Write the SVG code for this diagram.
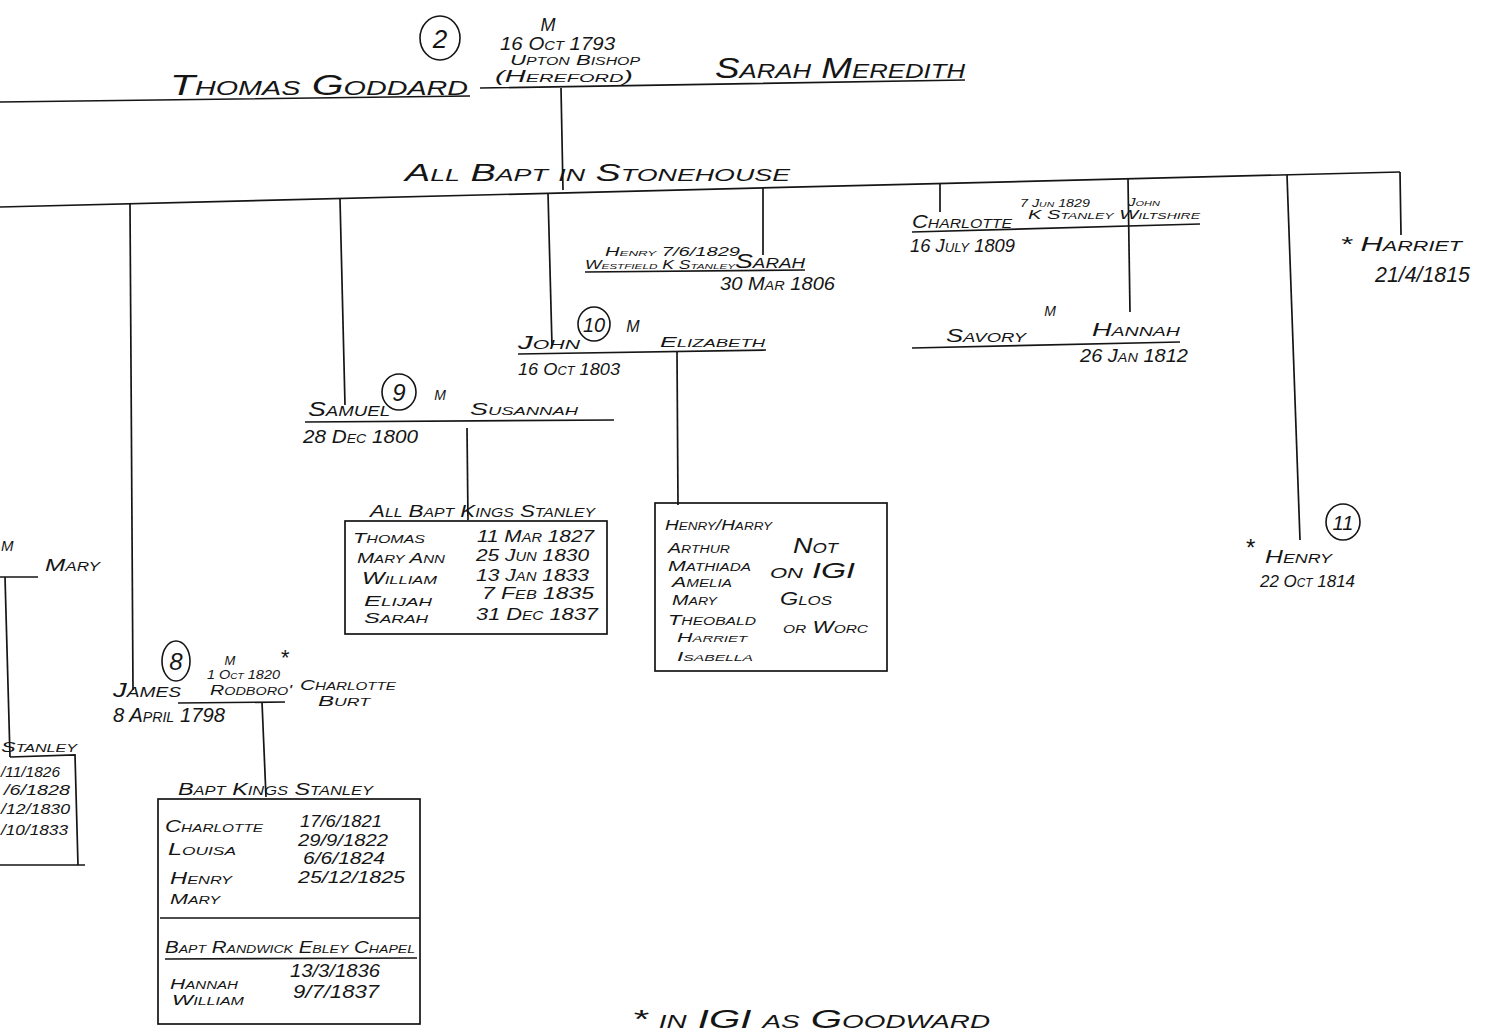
<svg xmlns="http://www.w3.org/2000/svg" width="1487" height="1034" viewBox="0 0 1487 1034">
<style>
text{font-family:"Liberation Sans",Arial,sans-serif;font-variant:small-caps;fill:#151515;font-style:italic}
.l{stroke:#151515;stroke-width:1.7;fill:none}
.c{stroke:#151515;stroke-width:1.6;fill:none}
.m{text-anchor:middle}
</style>
<rect width="1487" height="1034" fill="#fff"/>
<g id="connectors" class="l">
<path d="M0 102 L470 96 M480 88 L965 80"/>
<path d="M561 88 L563 190"/>
<path d="M0 207 L1400 172"/>
<path d="M130 204 L133 690"/>
<path d="M340 199 L345 405"/>
<path d="M548 193 L552 346"/>
<path d="M763 188 L763 255"/>
<path d="M940 183 L940 212"/>
<path d="M1128 179 L1130 312"/>
<path d="M1287 175 L1300 540"/>
<path d="M1400 172 L1401 235"/>
<path d="M677 352 L678 505"/>
<path d="M467 428 L468 520"/>
<path d="M262 702 L266 797"/>
<path d="M5 577 L10 757"/>
</g>
<g id="thomas-goddard"><text x="170" y="95" font-size="30" textLength="298" lengthAdjust="spacingAndGlyphs">Thomas Goddard</text></g>
<g id="sarah-meredith"><text x="715" y="78" font-size="30" textLength="250" lengthAdjust="spacingAndGlyphs">Sarah Meredith</text></g>
<g id="marriage-2">
<ellipse class="c" cx="440" cy="38" rx="20" ry="22"/>
<text class="m" x="440" y="48" font-size="26">2</text>
<text class="m" x="548" y="31" font-size="18">M</text>
<text x="500" y="50" font-size="18" textLength="115" lengthAdjust="spacingAndGlyphs">16 Oct 1793</text>
<text x="510" y="65" font-size="14" textLength="130" lengthAdjust="spacingAndGlyphs">Upton Bishop</text>
<text x="495" y="82" font-size="16" textLength="138" lengthAdjust="spacingAndGlyphs">(Hereford)</text>
</g>
<g id="bapt-note"><text x="405" y="181" font-size="24" textLength="385" lengthAdjust="spacingAndGlyphs">All Bapt in Stonehouse</text></g>
<g id="sarah">
<text x="605" y="256" font-size="12" textLength="135" lengthAdjust="spacingAndGlyphs">Henry 7/6/1829</text>
<text x="585" y="269" font-size="12" textLength="150" lengthAdjust="spacingAndGlyphs">Westfield K Stanley</text>
<text x="735" y="268" font-size="20" textLength="70" lengthAdjust="spacingAndGlyphs">Sarah</text>
<path class="l" d="M585 272 L805 270"/>
<text x="720" y="290" font-size="18" textLength="115" lengthAdjust="spacingAndGlyphs">30 Mar 1806</text>
</g>
<g id="charlotte">
<text x="1020" y="207" font-size="11" textLength="70" lengthAdjust="spacingAndGlyphs">7 Jun 1829</text>
<text x="1128" y="206" font-size="11" textLength="32" lengthAdjust="spacingAndGlyphs">John</text>
<text x="912" y="228" font-size="18" textLength="100" lengthAdjust="spacingAndGlyphs">Charlotte</text>
<text x="1028" y="219" font-size="13" textLength="172" lengthAdjust="spacingAndGlyphs">K Stanley Wiltshire</text>
<path class="l" d="M912 232 L1200 224"/>
<text x="910" y="252" font-size="18" textLength="105" lengthAdjust="spacingAndGlyphs">16 July 1809</text>
</g>
<g id="hannah">
<text class="m" x="1050" y="316" font-size="14">M</text>
<text x="946" y="342" font-size="18" textLength="80" lengthAdjust="spacingAndGlyphs">Savory</text>
<text x="1092" y="336" font-size="18" textLength="88" lengthAdjust="spacingAndGlyphs">Hannah</text>
<path class="l" d="M912 348 L1180 342"/>
<text x="1080" y="362" font-size="18" textLength="108" lengthAdjust="spacingAndGlyphs">26 Jan 1812</text>
</g>
<g id="john">
<ellipse class="c" cx="594" cy="324" rx="16" ry="17"/>
<text class="m" x="594" y="332" font-size="20">10</text>
<text class="m" x="633" y="332" font-size="16">M</text>
<text x="518" y="349" font-size="18" textLength="62" lengthAdjust="spacingAndGlyphs">John</text>
<path class="l" d="M518 354 L766 350"/>
<text x="660" y="347" font-size="15" textLength="105" lengthAdjust="spacingAndGlyphs">Elizabeth</text>
<text x="518" y="375" font-size="17" textLength="102" lengthAdjust="spacingAndGlyphs">16 Oct 1803</text>
</g>
<g id="john-children">
<rect class="l" x="655" y="503" width="232" height="168"/>
<text x="665" y="530" font-size="14" textLength="107" lengthAdjust="spacingAndGlyphs">Henry/Harry</text>
<text x="668" y="553" font-size="14" textLength="62" lengthAdjust="spacingAndGlyphs">Arthur</text>
<text x="668" y="571" font-size="14" textLength="83" lengthAdjust="spacingAndGlyphs">Mathiada</text>
<text x="672" y="587" font-size="14" textLength="60" lengthAdjust="spacingAndGlyphs">Amelia</text>
<text x="672" y="605" font-size="14" textLength="45" lengthAdjust="spacingAndGlyphs">Mary</text>
<text x="668" y="625" font-size="14" textLength="88" lengthAdjust="spacingAndGlyphs">Theobald</text>
<text x="677" y="642" font-size="13" textLength="70" lengthAdjust="spacingAndGlyphs">Harriet</text>
<text x="677" y="661" font-size="13" textLength="76" lengthAdjust="spacingAndGlyphs">Isabella</text>
<text x="793" y="553" font-size="22" textLength="45" lengthAdjust="spacingAndGlyphs">Not</text>
<text x="770" y="578" font-size="22" textLength="85" lengthAdjust="spacingAndGlyphs">on IGI</text>
<text x="780" y="605" font-size="18" textLength="52" lengthAdjust="spacingAndGlyphs">Glos</text>
<text x="783" y="633" font-size="16" textLength="85" lengthAdjust="spacingAndGlyphs">or Worc</text>
</g>
<g id="samuel">
<ellipse class="c" cx="399" cy="392" rx="17" ry="18"/>
<text class="m" x="399" y="401" font-size="24">9</text>
<text class="m" x="440" y="400" font-size="14">M</text>
<text x="308" y="416" font-size="20" textLength="82" lengthAdjust="spacingAndGlyphs">Samuel</text>
<text x="470" y="415" font-size="16" textLength="108" lengthAdjust="spacingAndGlyphs">Susannah</text>
<path class="l" d="M305 422 L614 420"/>
<text x="303" y="443" font-size="19" textLength="115" lengthAdjust="spacingAndGlyphs">28 Dec 1800</text>
</g>
<g id="samuel-children">
<text x="370" y="517" font-size="17" textLength="225" lengthAdjust="spacingAndGlyphs">All Bapt Kings Stanley</text>
<rect class="l" x="345" y="521" width="262" height="113"/>
<text x="353" y="543" font-size="15" textLength="72" lengthAdjust="spacingAndGlyphs">Thomas</text>
<text x="357" y="563" font-size="15" textLength="88" lengthAdjust="spacingAndGlyphs">Mary Ann</text>
<text x="362" y="584" font-size="16" textLength="75" lengthAdjust="spacingAndGlyphs">William</text>
<text x="364" y="606" font-size="15" textLength="68" lengthAdjust="spacingAndGlyphs">Elijah</text>
<text x="364" y="623" font-size="15" textLength="64" lengthAdjust="spacingAndGlyphs">Sarah</text>
<text x="477" y="542" font-size="17" textLength="117" lengthAdjust="spacingAndGlyphs">11 Mar 1827</text>
<text x="476" y="561" font-size="17" textLength="113" lengthAdjust="spacingAndGlyphs">25 Jun 1830</text>
<text x="476" y="581" font-size="17" textLength="113" lengthAdjust="spacingAndGlyphs">13 Jan 1833</text>
<text x="482" y="599" font-size="17" textLength="112" lengthAdjust="spacingAndGlyphs">7 Feb 1835</text>
<text x="476" y="620" font-size="17" textLength="122" lengthAdjust="spacingAndGlyphs">31 Dec 1837</text>
</g>
<g id="james">
<ellipse class="c" cx="176" cy="661" rx="14" ry="20"/>
<text class="m" x="176" y="670" font-size="24">8</text>
<text class="m" x="230" y="665" font-size="13">M</text>
<text x="207" y="679" font-size="13" textLength="73" lengthAdjust="spacingAndGlyphs">1 Oct 1820</text>
<text x="280" y="665" font-size="22">*</text>
<text x="210" y="695" font-size="15" textLength="82" lengthAdjust="spacingAndGlyphs">Rodboro'</text>
<text x="300" y="690" font-size="15" textLength="96" lengthAdjust="spacingAndGlyphs">Charlotte</text>
<text x="318" y="706" font-size="15" textLength="52" lengthAdjust="spacingAndGlyphs">Burt</text>
<text x="113" y="697" font-size="20" textLength="68" lengthAdjust="spacingAndGlyphs">James</text>
<path class="l" d="M178 703 L285 702"/>
<text x="113" y="722" font-size="20" textLength="112" lengthAdjust="spacingAndGlyphs">8 April 1798</text>
</g>
<g id="james-children">
<text x="178" y="795" font-size="17" textLength="195" lengthAdjust="spacingAndGlyphs">Bapt Kings Stanley</text>
<rect class="l" x="158" y="799" width="262" height="225"/>
<path class="l" d="M160 918 L420 918 M165 959 L417 958"/>
<text x="165" y="832" font-size="16" textLength="98" lengthAdjust="spacingAndGlyphs">Charlotte</text>
<text x="168" y="855" font-size="16" textLength="68" lengthAdjust="spacingAndGlyphs">Louisa</text>
<text x="170" y="884" font-size="16" textLength="62" lengthAdjust="spacingAndGlyphs">Henry</text>
<text x="170" y="904" font-size="15" textLength="50" lengthAdjust="spacingAndGlyphs">Mary</text>
<text x="300" y="827" font-size="17" textLength="82" lengthAdjust="spacingAndGlyphs">17/6/1821</text>
<text x="298" y="846" font-size="17" textLength="90" lengthAdjust="spacingAndGlyphs">29/9/1822</text>
<text x="303" y="864" font-size="17" textLength="82" lengthAdjust="spacingAndGlyphs">6/6/1824</text>
<text x="298" y="883" font-size="17" textLength="107" lengthAdjust="spacingAndGlyphs">25/12/1825</text>
<text x="165" y="953" font-size="16" textLength="250" lengthAdjust="spacingAndGlyphs">Bapt Randwick Ebley Chapel</text>
<text x="170" y="989" font-size="14" textLength="68" lengthAdjust="spacingAndGlyphs">Hannah</text>
<text x="172" y="1005" font-size="14" textLength="72" lengthAdjust="spacingAndGlyphs">William</text>
<text x="290" y="977" font-size="18" textLength="90" lengthAdjust="spacingAndGlyphs">13/3/1836</text>
<text x="293" y="998" font-size="18" textLength="86" lengthAdjust="spacingAndGlyphs">9/7/1837</text>
</g>
<g id="left-family">
<text x="1" y="551" font-size="15">M</text>
<text x="45" y="571" font-size="17" textLength="55" lengthAdjust="spacingAndGlyphs">Mary</text>
<path class="l" d="M0 577 L38 577"/>
<text x="1" y="752" font-size="15" textLength="76" lengthAdjust="spacingAndGlyphs">Stanley</text>
<path class="l" d="M10 757 L75 755 L78 865 M0 865 L85 865"/>
<text x="1" y="777" font-size="15" textLength="59" lengthAdjust="spacingAndGlyphs">/11/1826</text>
<text x="4" y="795" font-size="15" textLength="66" lengthAdjust="spacingAndGlyphs">/6/1828</text>
<text x="1" y="814" font-size="15" textLength="69" lengthAdjust="spacingAndGlyphs">/12/1830</text>
<text x="1" y="835" font-size="15" textLength="67" lengthAdjust="spacingAndGlyphs">/10/1833</text>
</g>
<g id="henry">
<text x="1245" y="556" font-size="24">*</text>
<text x="1265" y="563" font-size="18" textLength="67" lengthAdjust="spacingAndGlyphs">Henry</text>
<text x="1260" y="587" font-size="17" textLength="95" lengthAdjust="spacingAndGlyphs">22 Oct 1814</text>
<ellipse class="c" cx="1343" cy="522" rx="17" ry="18"/>
<text class="m" x="1343" y="530" font-size="20">11</text>
</g>
<g id="harriet">
<text x="1340" y="251" font-size="20" textLength="122" lengthAdjust="spacingAndGlyphs">* Harriet</text>
<text x="1375" y="282" font-size="22" textLength="95" lengthAdjust="spacingAndGlyphs">21/4/1815</text>
</g>
<g id="footnote"><text x="632" y="1028" font-size="26" textLength="358" lengthAdjust="spacingAndGlyphs">* in IGI as Goodward</text></g>
</svg>
